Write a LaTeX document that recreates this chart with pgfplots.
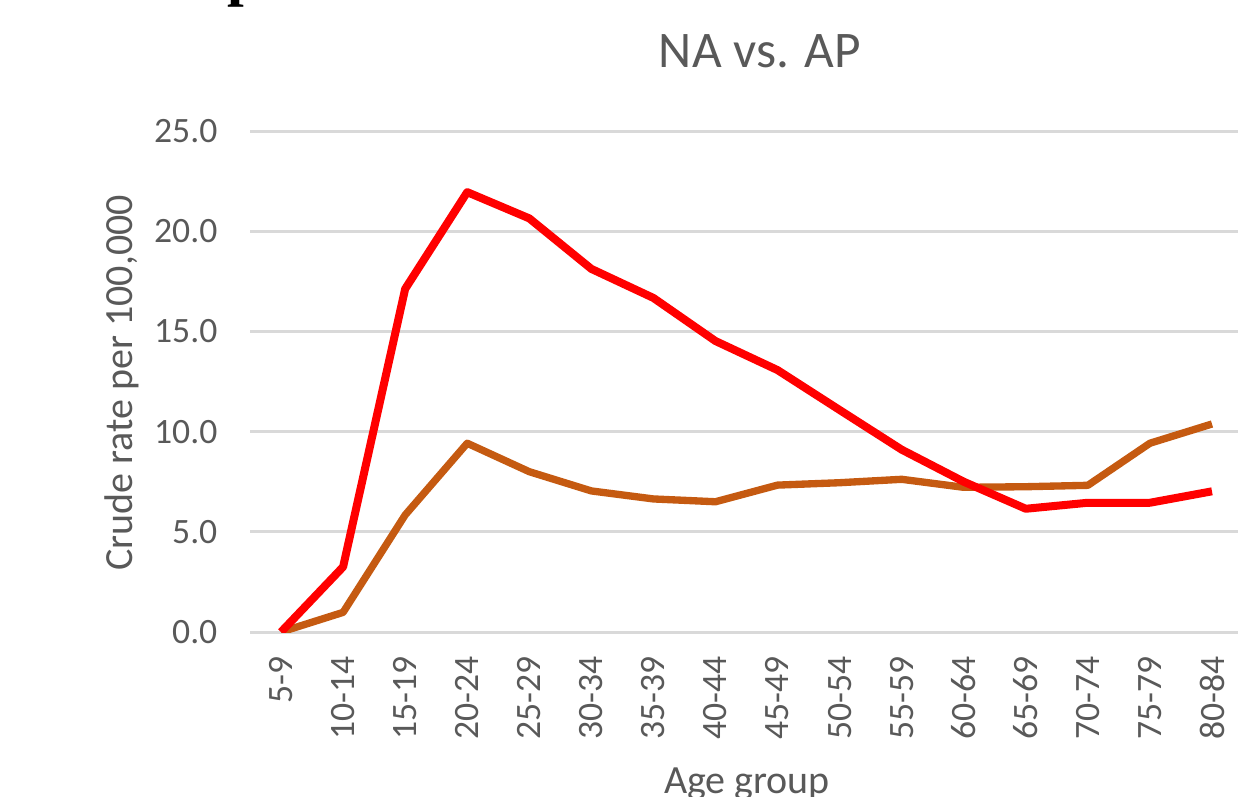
\documentclass[border=0pt]{standalone}
\usepackage{fontspec}
\setmainfont{Carlito}
\newfontfamily\serifbold{Liberation Serif}
\usepackage{pgfplots}
\pgfplotsset{compat=1.18}
\definecolor{NAred}{HTML}{FF0000}
\definecolor{APorange}{HTML}{C55A11}
\definecolor{GridGray}{HTML}{D9D9D9}
\definecolor{TextGray}{HTML}{595959}

\begin{document}
\begin{tikzpicture}[x=1pt,y=1pt]
% page = the reference frame (1 px = 0.3pt, axis origin at px 250,632)
\path[use as bounding box, clip] (-75,-49.2) rectangle (296.4,189.6);
\begin{axis}[
 scale only axis,
 width=297.9pt, height=150.3pt,
 xmin=-0.5, xmax=15.5, ymin=0, ymax=25,
 xtick={0,...,15},
 xticklabels={5-9,10-14,15-19,20-24,25-29,30-34,35-39,40-44,45-49,50-54,55-59,60-64,65-69,70-74,75-79,80-84},
 ytick={0,5,...,25},
 /pgf/number format/.cd, fixed, fixed zerofill, precision=1, assume math mode=true, /pgfplots/.cd,
 axis line style={draw=none},
 major tick length=0pt,
 ymajorgrids, grid style={GridGray, line width=0.9pt},
 tick label style={TextGray, font=\fontsize{10.7}{13}\selectfont},
 yticklabel style={anchor=east, inner sep=0pt, xshift=-9.6pt},
 xticklabel style={yshift=-7.2pt, rotate=90, anchor=east, inner sep=0pt},
]
\addplot[APorange, line width=2.2pt, line join=round] coordinates {
 (0,0) (1,0.98) (2,5.84) (3,9.42) (4,8.0) (5,7.04) (6,6.64) (7,6.5) (8,7.33)
 (9,7.45) (10,7.62) (11,7.22) (12,7.25) (13,7.32) (14,9.42) (15,10.38)};
\addplot[NAred, line width=2.4pt, line join=round] coordinates {
 (0,0) (1,3.25) (2,17.12) (3,21.95) (4,20.64) (5,18.12) (6,16.67) (7,14.52) (8,13.07)
 (9,11.08) (10,9.1) (11,7.5) (12,6.15) (13,6.45) (14,6.45) (15,7.02)};
\end{axis}
\node[TextGray, anchor=base, font=\fontsize{15.4}{18}\selectfont] at (153,169.5) {NA vs. AP};
\node[TextGray, anchor=base, font=\fontsize{12}{14}\selectfont] at (149.1,-48.3) {Age group};
\node[TextGray, anchor=base, rotate=90, font=\fontsize{12}{14}\selectfont] at (-35.4,74.7) {Crude rate per 100,000};
\node[anchor=base west, inner sep=0pt, font=\serifbold\bfseries\fontsize{18}{20}\selectfont] at (-6.9,191.2) {p};
\end{tikzpicture}
\end{document}
